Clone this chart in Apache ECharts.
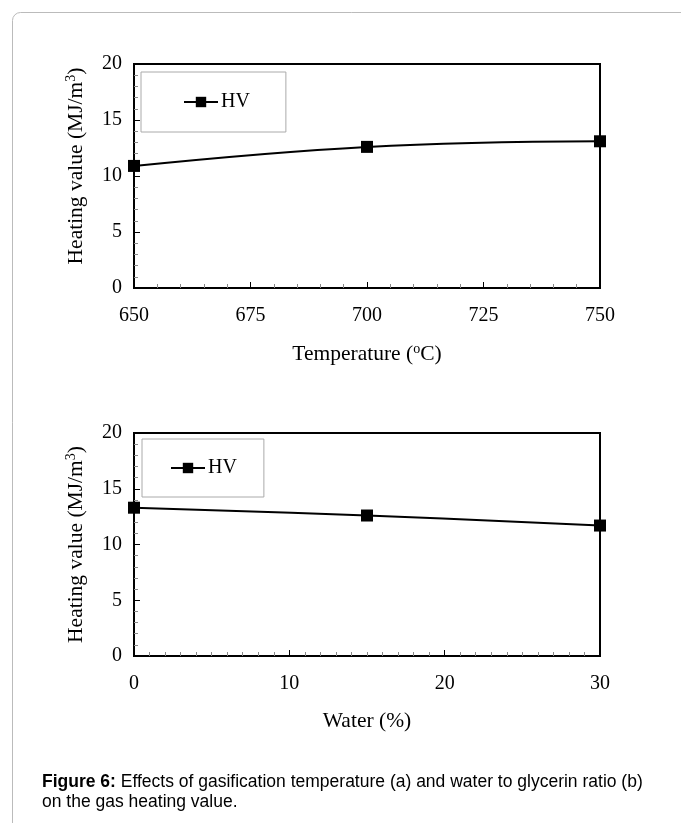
<!DOCTYPE html>
<html>
<head>
<meta charset="utf-8">
<script src="https://cdn.jsdelivr.net/npm/echarts@6/dist/echarts.min.js"></script>
<style>
  html, body { margin: 0; padding: 0; background: #fff; }
  #main { width: 681px; height: 823px; }
</style>
</head>
<body>
<div id="main"></div>
<script>
// (a) temperature
var tempX = [650, 700, 750];
var tempHV = [10.9, 12.6, 13.1];
// (b) water
var waterX = [0, 15, 30];
var waterHV = [13.3, 12.6, 11.7];
var yTicks = [0, 5, 10, 15, 20];

var serif = "'Liberation Serif', 'Times New Roman', serif";
var sans = "'Liberation Sans', Arial, sans-serif";
var sup = { fontSize: 14, fontFamily: serif, color: '#000', verticalAlign: 'top', padding: [0, 0, 10, 0] };
function nameStyle(pad) {
    return { fontSize: 21.5, fontFamily: serif, color: '#000', padding: pad || 0, rich: { sup: sup } };
}

function xAx(idx, min, max, interval, minorSplit, name) {
    return {
        type: 'value', gridIndex: idx, min: min, max: max, interval: interval,
        name: name, nameLocation: 'middle', nameGap: 54, nameTextStyle: nameStyle(),
        axisLine: { show: true, lineStyle: { color: '#000', width: 2 } },
        axisTick: { show: true, inside: true, length: 6, lineStyle: { color: '#000' } },
        minorTick: { show: true, splitNumber: minorSplit, length: 4, lineStyle: { color: '#888' } },
        axisLabel: { fontSize: 20, fontFamily: serif, color: '#000', margin: 18 },
        splitLine: { show: false }
    };
}
function yAx(idx, pad) {
    return {
        type: 'value', gridIndex: idx, min: yTicks[0], max: yTicks[yTicks.length - 1], interval: 5,
        name: 'Heating value (MJ/m{sup|3})', nameLocation: 'middle', nameGap: 46, nameRotate: 90,
        nameTextStyle: nameStyle(pad),
        axisLine: { show: true, lineStyle: { color: '#000', width: 2 } },
        axisTick: { show: true, inside: true, length: 6, lineStyle: { color: '#000' } },
        minorTick: { show: true, splitNumber: 5, length: 4, lineStyle: { color: '#888' } },
        axisLabel: { fontSize: 20, fontFamily: serif, color: '#000', margin: 12 },
        splitLine: { show: false }
    };
}
function legendAt(left, top, pad) {
    return {
        left: left, top: top, orient: 'vertical',
        backgroundColor: '#fff', borderColor: '#aaa', borderWidth: 1, padding: pad,
        itemWidth: 34, itemHeight: 13, itemGap: 0,
        textStyle: { fontSize: 20, fontFamily: serif, color: '#000', padding: [0, 0, 0, -2] }
    };
}

var chart = echarts.init(document.getElementById('main'));
chart.setOption({
    animation: false,
    backgroundColor: '#fff',
    grid: [
        { left: 134, top: 64, width: 466, height: 224, show: true, borderColor: '#000', borderWidth: 2 },
        { left: 134, top: 433, width: 466, height: 223, show: true, borderColor: '#000', borderWidth: 2 }
    ],
    xAxis: [
        xAx(0, 650, 750, 25, 5, 'Temperature ({sup|o}C)'),
        xAx(1, 0, 30, 10, 10, 'Water (%)')
    ],
    yAxis: [yAx(0, [0, 0, 0, 20]), yAx(1)],
    legend: [
        Object.assign(legendAt(141, 72, [20, 36, 20, 42]), { data: ['HV'] }),
        Object.assign(legendAt(142, 439, [19, 22, 19, 28]), { data: ['HV '] })
    ],
    series: [
        {
            name: 'HV', type: 'line', xAxisIndex: 0, yAxisIndex: 0, smooth: 0.4,
            data: tempX.map(function (x, i) { return [x, tempHV[i]]; }),
            symbol: 'rect', symbolSize: 12, showAllSymbol: true,
            lineStyle: { color: '#000', width: 2 }, itemStyle: { color: '#000' }
        },
        {
            name: 'HV ', type: 'line', xAxisIndex: 1, yAxisIndex: 1, smooth: 0.4,
            data: waterX.map(function (x, i) { return [x, waterHV[i]]; }),
            symbol: 'rect', symbolSize: 12, showAllSymbol: true,
            lineStyle: { color: '#000', width: 2 }, itemStyle: { color: '#000' }
        }
    ],
    graphic: [
        {
            type: 'rect', left: 10, top: 10, silent: true, z: -1,
            shape: { width: 720, height: 860, r: 8 },
            style: { fill: 'none', stroke: '#bbb', lineWidth: 1 }
        },
        {
            type: 'text', left: 42, top: 772,
            style: {
                text: '{b|Figure 6:} Effects of gasification temperature (a) and water to glycerin ratio (b)\non the gas heating value.',
                fontSize: 17.5, fontFamily: sans, fill: '#000', lineHeight: 20,
                rich: { b: { fontWeight: 'bold', fontSize: 17.5, fontFamily: sans } }
            }
        }
    ]
});
</script>
</body>
</html>
